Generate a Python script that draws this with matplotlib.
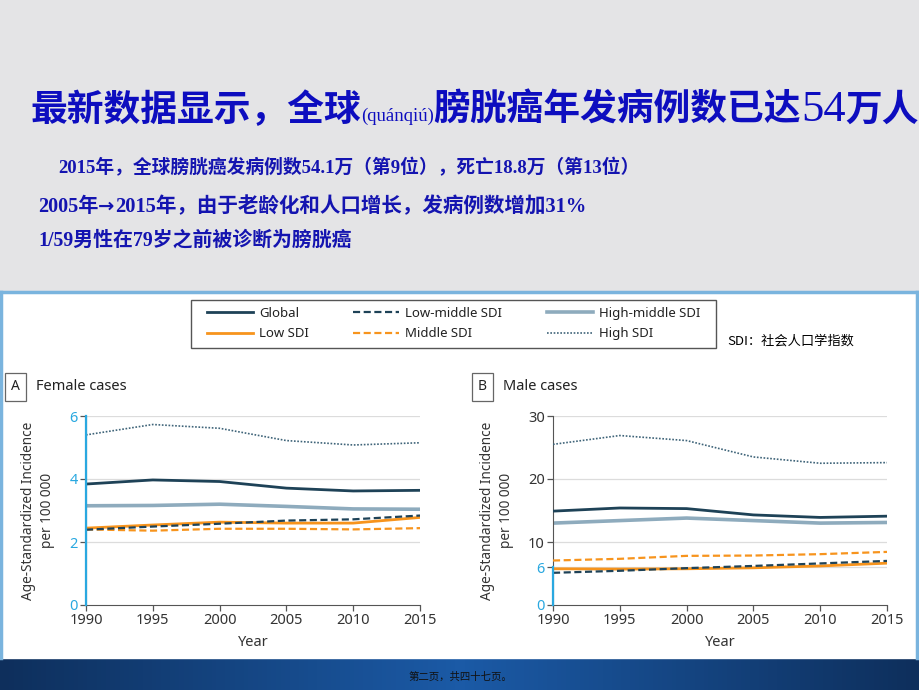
import matplotlib
matplotlib.use('Agg')
import matplotlib.pyplot as plt
import numpy as np
from matplotlib.lines import Line2D
from matplotlib.patches import Rectangle

plt.rcParams['font.family'] = ['Noto Sans', 'Noto Sans CJK SC', 'DejaVu Sans']

W, H = 920, 690

years = [1990, 1995, 2000, 2005, 2010, 2015]

# Female age-standardized incidence per 100 000
female_global = [3.84, 3.97, 3.92, 3.71, 3.62, 3.64]
female_low = [2.44, 2.54, 2.63, 2.60, 2.60, 2.78]
female_low_middle = [2.39, 2.49, 2.58, 2.68, 2.72, 2.84]
female_middle = [2.40, 2.36, 2.42, 2.42, 2.40, 2.44]
female_high_middle = [3.15, 3.16, 3.20, 3.13, 3.05, 3.04]
female_high = [5.40, 5.73, 5.61, 5.22, 5.08, 5.15]

# Male age-standardized incidence per 100 000
male_global = [14.9, 15.4, 15.3, 14.3, 13.9, 14.1]
male_low = [5.75, 5.70, 5.75, 5.90, 6.20, 6.64]
male_low_middle = [5.11, 5.43, 5.85, 6.20, 6.60, 7.00]
male_middle = [7.06, 7.33, 7.80, 7.85, 8.07, 8.43]
male_high_middle = [13.0, 13.4, 13.8, 13.4, 13.0, 13.1]
male_high = [25.5, 26.9, 26.1, 23.5, 22.5, 22.6]

series_names = ['Global', 'Low SDI', 'Low-middle SDI', 'Middle SDI', 'High-middle SDI', 'High SDI']
female_data = [female_global, female_low, female_low_middle, female_middle, female_high_middle, female_high]
male_data = [male_global, male_low, male_low_middle, male_middle, male_high_middle, male_high]

female_ticks = [0, 2, 4, 6]
male_ticks = [0, 6, 10, 20, 30]

dark = '#1e4257'
orange = '#f7941d'
styles = {
    'Global': dict(color=dark, lw=2.0, ls='-'),
    'Low SDI': dict(color=orange, lw=2.0, ls='-'),
    'Low-middle SDI': dict(color=dark, lw=1.6, ls=(0, (3.2, 1.6))),
    'Middle SDI': dict(color=orange, lw=1.6, ls=(0, (3.2, 1.6))),
    'High-middle SDI': dict(color='#8eabbd', lw=2.6, ls='-'),
    'High SDI': dict(color='#3f6479', lw=1.2, ls=(0, (1, 1))),
}
zorders = {'High-middle SDI': 2, 'Global': 3, 'High SDI': 3,
           'Low SDI': 4, 'Middle SDI': 4, 'Low-middle SDI': 5}

blue_tick = '#29a8e0'
gray_txt = '#333333'
cjk = ['Noto Sans CJK SC', 'DejaVu Sans']
serif_cjk = ['Liberation Serif', 'Noto Sans CJK SC']
text_blue = '#1414b0'

fig = plt.figure(figsize=(W / 100, H / 100), dpi=100)
fig.patch.set_facecolor('#e5e5e7')

# slide background pieces
bg = fig.add_axes([0, 0, 1, 1], zorder=-10)
bg.axis('off')
bg.add_patch(Rectangle((0, 0), W, 292, color='#e4e4e6'))
bg.add_patch(Rectangle((0, 292), W, 366, color='white'))
bg.plot([0, W], [292, 292], color='#7ab4de', lw=2.5)
bg.plot([1.5, 1.5], [292, 658], color='#7ab4de', lw=2.5)
bg.plot([W - 3, W - 3], [292, 658], color='#7ab4de', lw=2.5)
grad = np.abs(np.linspace(-1, 1, 200))[None, :]
bg.imshow(grad, extent=[0, W, H, 657], aspect='auto',
          cmap=matplotlib.colors.LinearSegmentedColormap.from_list('b', ['#1b5aa6', '#0e2f5c']))
# legend frame
bg.add_patch(Rectangle((191, 300), 525, 48, fill=False, ec='#555555', lw=1.0))
bg.set_xlim(0, W)
bg.set_ylim(H, 0)

fig.canvas.draw()
rend = fig.canvas.get_renderer()


def put_pieces(x, y, pieces, color):
    for s, fam, size, wt in pieces:
        t = fig.text(x / W, 1 - y / H, s, family=fam, fontsize=size, fontweight=wt,
                     color=color, va='baseline', ha='left')
        x = t.get_window_extent(rend).x1


# title with mixed fonts
put_pieces(30, 121, [
    ('最新数据显示，全球', cjk, 26.5, 'bold'),
    ('(quánqiú)', ['Liberation Serif'], 13.5, 'normal'),
    ('膀胱癌年发病例数已达', cjk, 26.5, 'bold'),
    ('54', ['Liberation Serif'], 32, 'normal'),
    ('万人', cjk, 26.5, 'bold'),
], '#0d0dbf')

put_pieces(58, 173, [('2015年，全球膀胱癌发病例数54.1万（第9位），死亡18.8万（第13位）',
                      serif_cjk, 13.5, 'bold')], text_blue)
put_pieces(38, 212, [('2005年', serif_cjk, 14.5, 'bold'),
                     ('→', ['DejaVu Sans'], 14, 'bold'),
                     ('2015年，由于老龄化和人口增长，发病例数增加31%', serif_cjk, 14.8, 'bold')],
           text_blue)
put_pieces(38, 246, [('1/59男性在79岁之前被诊断为膀胱癌', serif_cjk, 14.3, 'bold')], text_blue)

fig.text(727 / W, 1 - 341 / H, 'SDI：社会人口学指数', family=cjk, fontsize=9.5,
         color='black', va='center')
fig.text(460 / W, 1 - 677 / H, '第二页，共四十七页。', family=cjk, fontsize=7.5,
         color='#111111', va='center', ha='center')


def draw_panel(ax, data, ticks, letter, title, blue_upto, lx):
    for name, vals in zip(series_names, data):
        ax.plot(years, vals, label=name, zorder=zorders[name], **styles[name])
    ax.set_xlim(years[0], years[-1])
    ax.set_ylim(ticks[0], ticks[-1])
    ax.set_xticks(years)
    ax.set_yticks(ticks)
    for tv in ticks[1:]:
        ax.axhline(tv, color='#dcdcdc', lw=0.9, zorder=0)
    for s in ['top', 'right']:
        ax.spines[s].set_visible(False)
    ax.spines['bottom'].set_color('#555555')
    ax.spines['left'].set_color('#555555')
    ax.tick_params(axis='both', direction='out', length=4, width=0.9, color='#555555',
                   labelsize=10.5, labelcolor=gray_txt, pad=2)
    for tv, lab in zip(ax.get_yticks(), ax.get_yticklabels()):
        if tv <= blue_upto:
            lab.set_color(blue_tick)
    for tv, tk in zip(ax.get_yticks(), ax.yaxis.get_major_ticks()):
        if tv <= blue_upto:
            tk.tick1line.set_color(blue_tick)
    ax.plot([years[0], years[0]], [ticks[0], blue_upto], color=blue_tick, lw=1.6,
            clip_on=False, zorder=6)
    ax.set_xlabel('Year', fontsize=10.5, color=gray_txt, labelpad=5)
    ax.set_ylabel('Age-Standardized Incidence\nper 100 000', fontsize=9.8,
                  color=gray_txt, labelpad=10, linespacing=1.4)
    fig.text((lx + 10.5) / W, 1 - 387 / H, letter, fontsize=10, fontweight='bold',
             color='#222222', va='center', ha='center',
             bbox=dict(boxstyle='square,pad=0.45', fc='white', ec='#666666', lw=0.9))
    fig.text((lx + 31) / W, 1 - 387 / H, title, fontsize=10.5, color='#222222', va='center')


axA = fig.add_axes([86 / W, 1 - 605 / H, 334 / W, 189 / H])
draw_panel(axA, female_data, female_ticks, 'A', 'Female cases', 6, 5)
axB = fig.add_axes([553 / W, 1 - 605 / H, 334 / W, 189 / H])
draw_panel(axB, male_data, male_ticks, 'B', 'Male cases', 6, 472)

handles = [Line2D([], [], **styles[n]) for n in series_names]
leg = fig.legend(handles, series_names, ncol=3, loc='upper left',
                 bbox_to_anchor=(207 / W, 1 - 307 / H), frameon=False,
                 fontsize=9.5, handlelength=3.5, columnspacing=3.35, labelspacing=0.55,
                 borderpad=0, handletextpad=0.45, borderaxespad=0)
for t in leg.get_texts():
    t.set_color('#222222')

fig.savefig('out.png', dpi=100, facecolor=fig.get_facecolor())
